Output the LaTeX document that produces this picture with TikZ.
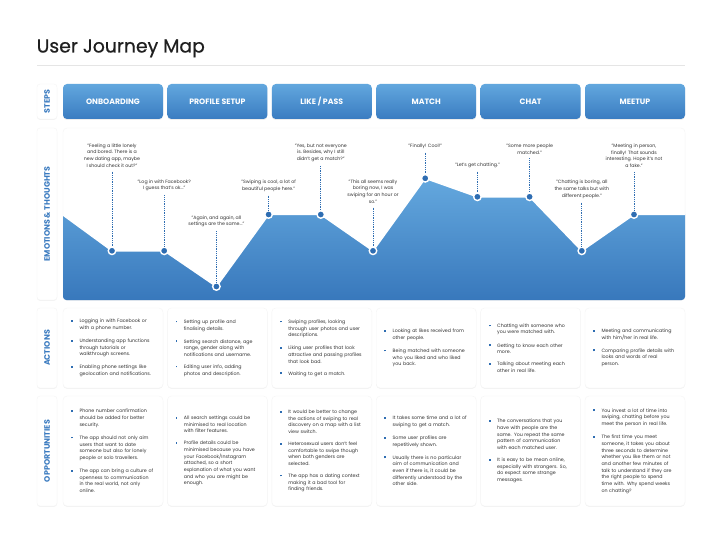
\documentclass[tikz,border=0pt]{standalone}
\usepackage{fontspec}
\setmainfont{Poppins}
\newfontfamily\titlefont{Poppins}[FakeBold=0.6]
\usetikzlibrary{shadows}
\definecolor{dotblue}{HTML}{2E6DB2}
\definecolor{lblblue}{HTML}{3B7BC0}
\definecolor{btntop}{HTML}{62A7DE}
\definecolor{btnbot}{HTML}{3A7CC1}
\definecolor{charttop}{HTML}{64A8DE}
\definecolor{chartbot}{HTML}{3878BC}
\definecolor{txtgray}{HTML}{333333}
\newcommand\bi[1]{\noindent\makebox[8.5pt][l]{\hspace{0.2pt}\raisebox{0.9pt}{\textcolor{dotblue}{\rule{1.8pt}{1.8pt}}}}\parbox[t]{86pt}{\raggedright #1}\par}
\newcommand\gap{\vspace{7.2pt}}
\begin{document}
\begin{tikzpicture}[x=1pt,y=-1pt,
 lbl/.style={fill=white, rounded corners=3pt, draw=black!4, drop shadow={opacity=0.10,shadow xshift=0pt,shadow yshift=-0.8pt}, minimum width=20pt, inner sep=0pt},
 lbltext/.style={rotate=90, text=lblblue, inner sep=0pt, font=\fontsize{7.9}{9}\selectfont\bfseries},
 stepbtn/.style={rounded corners=4pt, top color=btntop, bottom color=btnbot, minimum width=100pt, minimum height=35pt, text=white, font=\fontsize{7.8}{9}\selectfont\bfseries, drop shadow={opacity=0.15,shadow xshift=0pt,shadow yshift=-1pt}},
 card/.style={fill=white, rounded corners=4pt, draw=black!4, minimum width=100pt, inner sep=0pt, drop shadow={opacity=0.10,shadow xshift=0pt,shadow yshift=-0.8pt}},
 txt/.style={inner sep=0pt, text width=96pt, anchor=west, font=\fontsize{4.75}{6.7}\selectfont, text=txtgray},
 quote/.style={inner sep=0pt, align=center, font=\fontsize{4.7}{6.7}\selectfont, text=txtgray, anchor=north},
 dotl/.style={dotblue, line width=0.9pt, dash pattern=on 0.9pt off 0.9pt, shorten <=4pt},
 pt/.style={circle, fill=dotblue, draw=white, line width=1.4pt, minimum size=7.5pt, inner sep=0pt}
]
\useasboundingbox (0,0) rectangle (720,540);
\fill[white] (0,0) rectangle (720,540);

% title
\node[anchor=base west, inner sep=0pt, font=\titlefont\fontsize{18.8}{20}\selectfont, text=black!88] (title) at (36.5,52.5) {User Journey Map};
\draw[black!10, line width=0.6pt] (37,65) -- (685,65);

% row labels
\node[lbl, minimum height=35pt] (lsteps) at (47,101.5) {};
\node[lbltext] at (lsteps.center) {STEPS};
\node[lbl, minimum height=172pt] (lemo) at (47,214) {};
\node[lbltext] at (lemo.center) {EMOTIONS \& THOUGHTS};
\node[lbl, minimum height=80pt] (lact) at (47,348) {};
\node[lbltext] at (lact.center) {ACTIONS};
\node[lbl, minimum height=110pt] (lopp) at (47,451) {};
\node[lbltext] at (lopp.center) {OPPORTUNITIES};

% steps
\foreach \i/\t in {0/ONBOARDING,1/PROFILE SETUP,2/{LIKE / PASS},3/MATCH,4/CHAT,5/MEETUP}
  \node[stepbtn] (s\i) at (113+104.4*\i,101.5) {\t};

% emotions panel
\node[card, minimum width=622pt, minimum height=172pt] (emo) at (374,214) {};
\coordinate (cl) at (63,215);
\coordinate (c1) at (112,250.8);
\coordinate (c2) at (164.2,250.8);
\coordinate (c3) at (216.4,286.5);
\coordinate (c4) at (268.6,214.5);
\coordinate (c5) at (320.8,214.5);
\coordinate (c6) at (373,250.8);
\coordinate (c7) at (425.2,178.3);
\coordinate (c8) at (477.4,196.8);
\coordinate (c9) at (529.6,196.8);
\coordinate (c10) at (581.8,250.8);
\coordinate (c11) at (634,214.5);
\coordinate (cr) at (685,214.5);
\begin{scope}
\clip[rounded corners=4pt] (emo.north west) rectangle (emo.south east);
\shade[top color=charttop, bottom color=chartbot] (cl) -- (c1) -- (c2) -- (c3) -- (c4) -- (c5) -- (c6) -- (c7) -- (c8) -- (c9) -- (c10) -- (c11) -- (cr) -- (685,300) -- (63,300) -- cycle;
\draw[white, line width=1.5pt, line join=round] (cl) -- (c1) -- (c2) -- (c3) -- (c4) -- (c5) -- (c6) -- (c7) -- (c8) -- (c9) -- (c10) -- (c11) -- (cr);
\end{scope}

\foreach \k in {1,...,11} \node[pt] (p\k) at (c\k) {};

\node[quote] (q1) at (112,143.5) {"Feeling a little lonely\\and bored. There is a\\new dating app, maybe\\I should check it out?"};
\node[quote] (q2) at (164.2,179.5) {"Log in with Facebook?\\I guess that's ok..."};
\node[quote] (q3) at (216.4,215.5) {"Again, and again, all\\settings are the same..."};
\node[quote] (q4) at (268.6,179.7) {"Swiping is cool, a lot of\\beautiful people here."};
\node[quote] (q5) at (320.8,143.5) {"Yes, but not everyone\\is. Besides, why I still\\didn't get a match?"};
\node[quote] (q6) at (373,179.5) {"This all seems really\\boring now, I was\\swiping for an hour or\\so."};
\node[quote] (q7) at (425.2,143.5) {"Finally! Cool!"};
\node[quote] (q8) at (477.4,162.3) {"Let's get chatting."};
\node[quote] (q9) at (529.6,143.8) {"Some more people\\matched."};
\node[quote] (q10) at (581.8,180) {"Chatting is boring, all\\the same talks but with\\different people."};
\node[quote] (q11) at (634,143.8) {"Meeting in person,\\finally! That sounds\\interesting. Hope it's not\\a fake."};

\foreach \k in {1,...,11} \draw[dotl] (q\k.south) -- (p\k);

% actions
\foreach \i in {0,...,5} \node[card, minimum height=80pt] (a\i) at (113+104.4*\i,348) {};
\node[txt] at ([xshift=8pt]a0.west) {\bi{Logging in with Facebook or\\with a phone number.}\gap\bi{Understanding app functions\\through tutorials or\\walkthrough screens.}\gap\bi{Enabling phone settings like\\geolocation and notifications.}};
\node[txt] at ([xshift=8pt]a1.west) {\bi{Setting up profile and\\finalising details.}\gap\bi{Setting search distance, age\\range, gender along with\\notifications and username.}\gap\bi{Editing user info, adding\\photos and description.}};
\node[txt] at ([xshift=8pt]a2.west) {\bi{Swiping profiles, looking\\through user photos and user\\descriptions.}\gap\bi{Liking user profiles that look\\attractive and passing profiles\\that look bad.}\gap\bi{Waiting to get a match.}};
\node[txt] at ([xshift=8pt]a3.west) {\bi{Looking at likes received from\\other people.}\gap\bi{Being matched with someone\\who you liked and who liked\\you back.}};
\node[txt] at ([xshift=8pt]a4.west) {\bi{Chatting with someone who\\you were matched with.}\gap\bi{Getting to know each other\\more.}\gap\bi{Talking about meeting each\\other in real life.}};
\node[txt] at ([xshift=8pt]a5.west) {\bi{Meeting and communicating\\with him/her in real life.}\gap\bi{Comparing profile details with\\looks and words of real\\person.}};

% opportunities
\foreach \i in {0,...,5} \node[card, minimum height=110pt] (o\i) at (113+104.4*\i,451) {};
\node[txt] at ([xshift=8pt]o0.west) {\bi{Phone number confirmation\\should be added for better\\security.}\gap\bi{The app should not only aim\\users that want to date\\someone but also for lonely\\people or solo travellers.}\gap\bi{The app can bring a culture of\\openness to communication\\in the real world, not only\\online.}};
\node[txt] at ([xshift=8pt]o1.west) {\bi{All search settings could be\\minimised to real location\\with filter features.}\gap\bi{Profile details could be\\minimised because you have\\your Facebook/Instagram\\attached, so a short\\explanation of what you want\\and who you are might be\\enough.}};
\node[txt] at ([xshift=8pt]o2.west) {\bi{It would be better to change\\the actions of swiping to real\\discovery on a map with a list\\view switch.}\gap\bi{Heterosexual users don't feel\\comfortable to swipe though\\when both genders are\\selected.}\gap\bi{The app has a dating context\\making it a bad tool for\\finding friends.}};
\node[txt] at ([xshift=8pt]o3.west) {\bi{It takes some time and a lot of\\swiping to get a match.}\gap\bi{Some user profiles are\\repetitively shown.}\gap\bi{Usually there is no particular\\aim of communication and\\even if there is, it could be\\differently understood by the\\other side.}};
\node[txt] at ([xshift=8pt]o4.west) {\bi{The conversations that you\\have with people are the\\same. You repeat the same\\pattern of communication\\with each matched user.}\gap\bi{It is easy to be mean online,\\especially with strangers. So,\\do expect some strange\\messages.}};
\node[txt] at ([xshift=8pt]o5.west) {\bi{You invest a lot of time into\\swiping, chatting before you\\meet the person in real life.}\gap\bi{The first time you meet\\someone, it takes you about\\three seconds to determine\\whether you like them or not\\and another few minutes of\\talk to understand if they are\\the right people to spend\\time with. Why spend weeks\\on chatting?}};
\end{tikzpicture}
\end{document}
